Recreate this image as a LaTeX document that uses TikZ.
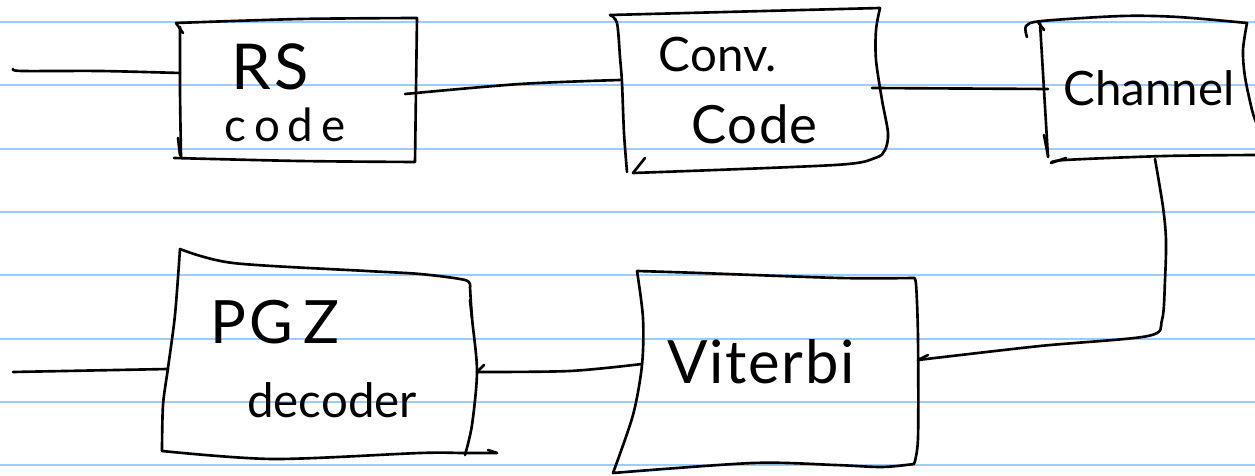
\documentclass[tikz,border=0pt]{standalone}
\usepackage{fontspec}
\setmainfont{Lato}
\definecolor{ruleblue}{RGB}{158,204,250}
\begin{document}
\begin{tikzpicture}[x=0.02cm,y=-0.02cm,
  ink/.style={line width=1.5pt,line cap=round,line join=round,black},
  rule/.style={line width=1.3pt,ruleblue},
  hand/.style={font=\fontsize{27}{30}\selectfont,inner sep=0pt,anchor=center}]
\useasboundingbox (0,0) rectangle (1255,476);
% ruled notebook lines
\foreach \k in {0,...,7}
  \draw[rule] (0,22+63.333*\k) -- (1255,22+63.333*\k);

% ---- RS code ----
\draw[ink] plot[smooth,tension=0.5] coordinates {(176,23) (300,19) (417,18)}
  -- plot[smooth,tension=0.5] coordinates {(417,18) (416,90) (415,162)}
  -- plot[smooth,tension=0.5] coordinates {(415,162) (300,161) (174,158)};
\draw[ink] plot[smooth,tension=0.5] coordinates {(181,157) (180,90) (180,27)};
\draw[ink] (176,23) -- (183,33);
\draw[ink] (178,138) -- (180,155);
\node[hand,font=\fontsize{36}{40}\selectfont] (rs) at (270,67) {R\kern2pt S};
\node[hand,font=\fontsize{26}{30}\selectfont] (rscode) at (285,125) {c\,o\,d\,e};
\coordinate (rsin) at (180,73);
\coordinate (rsout) at (405,94);

% ---- Conv. Code ----
\draw[ink] (610,15) -- (880,8)
  -- plot[smooth,tension=0.5] coordinates {(880,8) (876,30) (876,60) (882,100) (888,133) (885,150) (875,158) (835,165) (633,173)};
\draw[ink] plot[smooth,tension=0.5] coordinates {(610,15) (617,23) (620,57) (622,83) (624,133) (627,172)};
\draw[ink] (633,173) -- (645,158);
\node[hand] (conv) at (718,55) {Conv.};
\node[hand,font=\fontsize{30}{34}\selectfont] (convcode) at (754,124) {C\kern1pt o\kern1pt de};
\coordinate (convin) at (620,80);
\coordinate (convout) at (872,88);

% ---- Channel ----
\draw[ink] plot[smooth,tension=0.5] coordinates {(1027,37) (1026,26) (1042,21) (1122,16) (1178,17) (1247,23)}
  -- plot[smooth,tension=0.5] coordinates {(1247,23) (1243,50) (1245,77) (1252,110) (1256,122)};
\draw[ink] plot[smooth,tension=0.5] coordinates {(1040,23) (1044,90) (1048,157)};
\draw[ink] (1038,22) -- (1044,30);
\draw[ink] (1044,135) -- (1048,156);
\draw[ink] plot[smooth,tension=0.5] coordinates {(1051,163) (1065,160) (1165,156) (1256,155)};
\draw[ink] (1051,163) -- (1066,158);
\node[hand] (channel) at (1149,88) {Channel};
\coordinate (chin) at (1048,89);
\coordinate (chout) at (1155,159);

% ---- Viterbi ----
\draw[ink] plot[smooth,tension=0.5] coordinates {(637,271) (700,273) (840,278) (913,278)}
  -- plot[smooth,tension=0.5] coordinates {(913,278) (916,284) (918,338) (918,438) (914,464)}
  -- plot[smooth,tension=0.5] coordinates {(914,464) (882,467) (835,465) (753,463) (613,473)}
  -- plot[smooth,tension=0.5] coordinates {(613,473) (633,415) (642,365) (643,318) (637,271)};
\node[hand,font=\fontsize{34}{38}\selectfont] (viterbi) at (761,362) {V\kern1pt i\kern1pt t\kern1pt e\kern1pt r\kern1pt b\kern1pt i};
\coordinate (vin) at (918,360);
\coordinate (vout) at (642,364);

% ---- PGZ decoder ----
\draw[ink] plot[smooth,tension=0.5] coordinates {(180,249) (233,263) (367,271) (420,274) (465,280) (470,287)}
  -- plot[smooth,tension=0.5] coordinates {(470,287) (472,318) (477,371) (472,425) (465,455)};
\draw[ink] (470,300) -- (472,318);
\draw[ink] plot[smooth,tension=0.5] coordinates {(162,451) (273,459) (420,453) (463,453) (497,453)};
\draw[ink] (497,453) -- (488,450);
\draw[ink] plot[smooth,tension=0.5] coordinates {(180,249) (175,315) (168,368) (163,405) (162,451)};
\node[hand,font=\fontsize{34}{38}\selectfont] (pgz) at (275,322) {P\kern2pt G\kern6pt Z};
\node[hand] (decoder) at (332,400) {decoder};
\coordinate (pin) at (168,369);
\coordinate (pout) at (477,372);

% ---- free ends ----
\coordinate (src) at (13,69);
\coordinate (sink) at (13,372);

% ---- connectors ----
\draw[ink] plot[smooth,tension=0.5] coordinates {(src) (22,71) (100,71) (rsin)};
\draw[ink] plot[smooth,tension=0.5] coordinates {(rsout) (520,84) (convin)};
\draw[ink] (convout) -- (chin);
\draw[ink] plot[smooth,tension=0.5] coordinates {(chout) (1163,207) (1166,240) (1165,280) (1162,320) (1148,336) (1040,346) (vin)};
\draw[ink] (vin) -- (928,355);
\draw[ink] plot[smooth,tension=0.5] coordinates {(vout) (570,371) (pout)};
\draw[ink] (pout) -- (484,365);
\draw[ink] (pin) -- (sink);
\end{tikzpicture}
\end{document}
